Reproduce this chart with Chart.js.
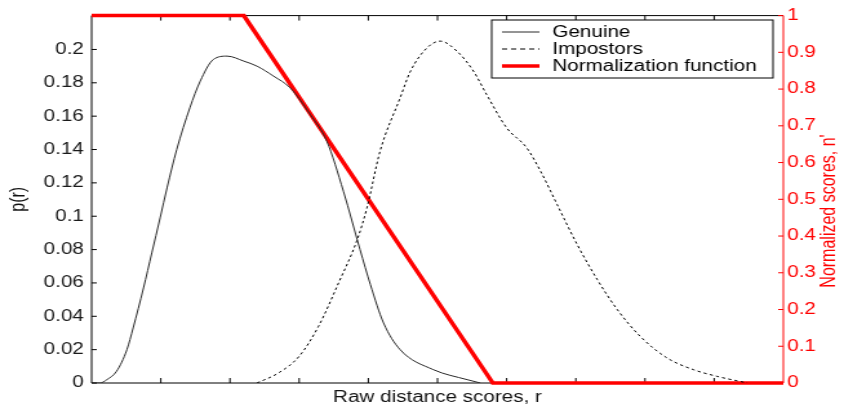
<!DOCTYPE html>
<html>
<head>
<meta charset="utf-8">
<script src="https://cdn.jsdelivr.net/npm/chart.js@4.4.1/dist/chart.umd.min.js"></script>
<style>
html, body { margin: 0; padding: 0; background: #fff; overflow: hidden; }
/* the reference is stretched sideways, so the chart is drawn narrow and widened */
#wrap { width: 654px; height: 407px; transform: scaleX(1.2905); transform-origin: 0 0; }
</style>
</head>
<body>
<div id="wrap"><canvas id="graph"></canvas></div>
<script>
// raw distance score r (x) and density p(r)
const genuineX = [0, 0.12, 0.22, 0.36, 0.51, 0.60, 0.75, 0.87, 0.99, 1.09, 1.23, 1.42, 1.57, 1.76, 1.96,
  2.20, 2.39, 2.63, 2.87, 3.16, 3.40, 3.64, 3.88, 4.03, 4.22, 4.46, 4.94, 5.43, 5.62];
const genuineY = [0, 0, 0.002, 0.007, 0.020, 0.033, 0.057, 0.078, 0.099, 0.117, 0.140, 0.165, 0.181, 0.194, 0.196,
  0.193, 0.190, 0.184, 0.177, 0.161, 0.145, 0.115, 0.080, 0.059, 0.036, 0.020, 0.008, 0.002, 0];

const impostorX = [2.39, 2.70, 3.00, 3.28, 3.57, 3.84, 3.98, 4.17, 4.46, 4.61, 4.85, 5.04, 5.28, 5.52, 5.71,
  6.00, 6.29, 6.49, 6.73, 7.02, 7.31, 7.60, 7.93, 8.32, 8.70, 9.04, 9.48];
const impostorY = [0, 0.006, 0.016, 0.034, 0.060, 0.086, 0.105, 0.139, 0.171, 0.187, 0.201, 0.205, 0.199, 0.187, 0.173,
  0.153, 0.141, 0.127, 0.107, 0.083, 0.062, 0.044, 0.028, 0.015, 0.008, 0.004, 0];

// normalization function n'(r)
const normX = [0, 2.2, 5.8, 10];
const normY = [1, 1, 0, 0];

const leftTicks = [0, 0.02, 0.04, 0.06, 0.08, 0.1, 0.12, 0.14, 0.16, 0.18, 0.2];
const rightTicks = [0, 0.1, 0.2, 0.3, 0.4, 0.5, 0.6, 0.7, 0.8, 0.9, 1];

const FONT = '"Liberation Sans", Arial, sans-serif';
Chart.defaults.font.family = FONT;
Chart.defaults.font.size = 16;

const toPts = (xs, ys) => xs.map((x, i) => ({x: x, y: ys[i]}));

// frame, inward ticks, legend box and right axis title
const decor = {
  id: 'decor',
  beforeDatasetsDraw(chart) {
    const {ctx, chartArea: a, scales} = chart;
    ctx.save();
    ctx.lineWidth = 1;
    ctx.strokeStyle = '#000';
    ctx.beginPath();
    ctx.moveTo(a.right, a.top);
    ctx.lineTo(a.left, a.top);
    ctx.lineTo(a.left, a.bottom);
    ctx.lineTo(a.right, a.bottom);
    for (let v = 1; v < 10; v++) {
      const px = scales.x.getPixelForValue(v);
      ctx.moveTo(px, a.bottom); ctx.lineTo(px, a.bottom - 5);
      ctx.moveTo(px, a.top); ctx.lineTo(px, a.top + 5);
    }
    leftTicks.forEach(v => {
      const py = scales.y.getPixelForValue(v);
      ctx.moveTo(a.left, py); ctx.lineTo(a.left + 4, py);
    });
    ctx.stroke();

    ctx.strokeStyle = '#ff0000';
    ctx.beginPath();
    ctx.moveTo(a.right, a.top);
    ctx.lineTo(a.right, a.bottom);
    rightTicks.forEach(v => {
      const py = scales.y2.getPixelForValue(v);
      ctx.moveTo(a.right, py); ctx.lineTo(a.right - 4, py);
    });
    ctx.stroke();
    ctx.restore();
  },
  afterDraw(chart) {
    const ctx = chart.ctx;
    ctx.save();
    // legend
    ctx.fillStyle = '#fff';
    ctx.fillRect(381, 20, 218, 58);
    ctx.strokeStyle = '#000';
    ctx.lineWidth = 1;
    ctx.strokeRect(381, 20, 218, 58);
    ctx.font = '16px ' + FONT;
    ctx.textBaseline = 'middle';
    ctx.textAlign = 'left';
    chart.data.datasets.forEach((ds, i) => {
      const y = 32 + i * 17;
      ctx.beginPath();
      ctx.strokeStyle = ds.borderColor;
      ctx.lineWidth = ds.borderWidth;
      ctx.setLineDash(i === 1 ? [4, 3] : []);
      ctx.moveTo(389, y);
      ctx.lineTo(418, y);
      ctx.stroke();
      ctx.setLineDash([]);
      ctx.fillStyle = '#000';
      ctx.fillText(ds.label, 428, y + 1);
    });
    // right axis title, reading upwards
    ctx.translate(643, 211);
    ctx.rotate(-Math.PI / 2);
    ctx.textAlign = 'center';
    ctx.fillStyle = '#ff0000';
    ctx.fillText("Normalized scores, n'", 0, 0);
    ctx.restore();
  }
};

new Chart(document.getElementById('graph').getContext('2d'), {
  type: 'line',
  data: {
    datasets: [
      {
        label: 'Genuine',
        data: toPts(genuineX, genuineY),
        borderColor: '#2a2a2a',
        borderWidth: 1,
        pointRadius: 0,
        cubicInterpolationMode: 'monotone',
        yAxisID: 'y'
      },
      {
        label: 'Impostors',
        data: toPts(impostorX, impostorY),
        borderColor: '#000',
        borderWidth: 1,
        borderDash: [2.5, 2.5],
        pointRadius: 0,
        cubicInterpolationMode: 'monotone',
        yAxisID: 'y'
      },
      {
        label: 'Normalization function',
        data: toPts(normX, normY),
        borderColor: '#ff0000',
        borderWidth: 3.5,
        pointRadius: 0,
        tension: 0,
        clip: false,
        yAxisID: 'y2'
      }
    ]
  },
  options: {
    responsive: true,
    maintainAspectRatio: false,
    animation: false,
    layout: {padding: {top: 14, left: 0, right: 0, bottom: 0}},
    plugins: {legend: {display: false}, tooltip: {enabled: false}},
    scales: {
      x: {
        type: 'linear',
        min: 0,
        max: 10,
        grid: {display: false, drawTicks: false},
        border: {display: false},
        ticks: {display: false, stepSize: 1},
        title: {display: true, text: 'Raw distance scores, r', color: '#111', padding: 0, font: {size: 16}},
        afterFit: s => { s.height = 24; }
      },
      y: {
        position: 'left',
        min: 0,
        max: 0.2203,
        grid: {display: false, drawTicks: false},
        border: {display: false},
        ticks: {
          stepSize: 0.02,
          padding: 6,
          color: '#1a1a1a',
          callback: v => v > 0.201 ? '' : String(Math.round(v * 100) / 100)
        },
        title: {display: true, text: 'p(r)', color: '#111', padding: {top: 5, bottom: 0}},
        afterFit: s => { s.width = 71; }
      },
      y2: {
        position: 'right',
        min: 0,
        max: 1,
        grid: {display: false, drawTicks: false},
        border: {display: false},
        ticks: {
          stepSize: 0.1,
          padding: 3,
          color: '#ff0000',
          callback: v => String(Math.round(v * 10) / 10)
        },
        afterFit: s => { s.width = 47; }
      }
    }
  },
  plugins: [decor]
});
</script>
</body>
</html>
